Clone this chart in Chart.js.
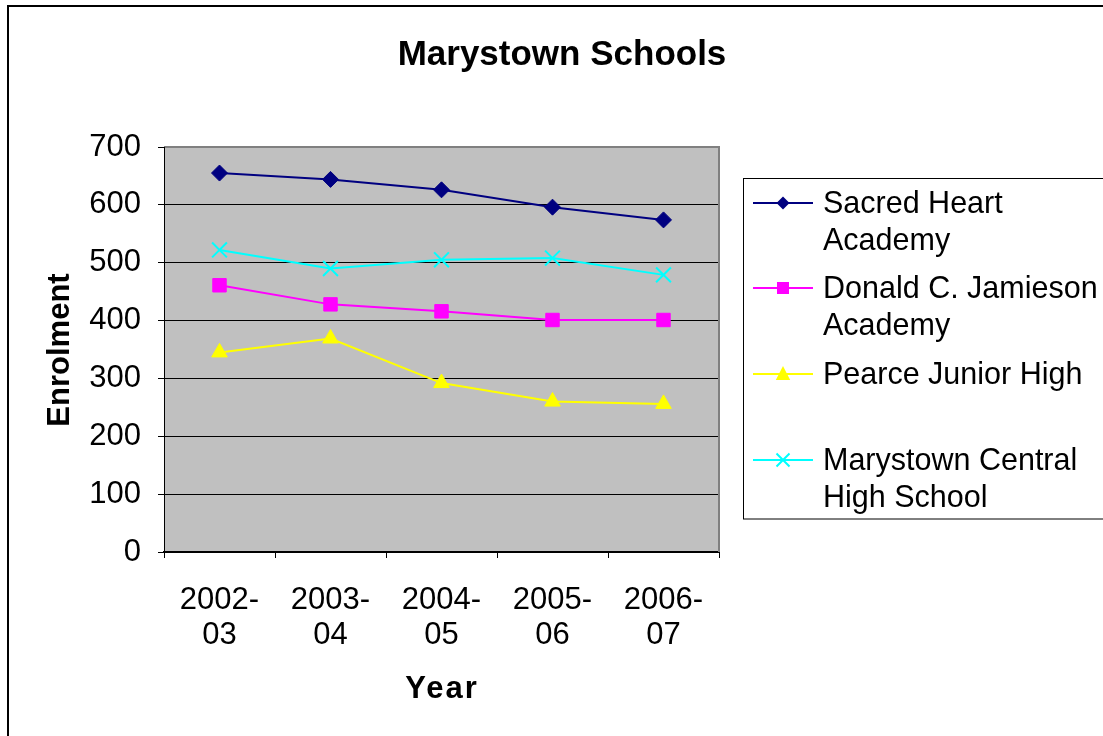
<!DOCTYPE html>
<html>
<head>
<meta charset="utf-8">
<script src="https://cdn.jsdelivr.net/npm/chart.js@4/dist/chart.umd.min.js"></script>
<style>
  html, body { margin: 0; padding: 0; background: #fff; overflow: hidden; }
  #wrap { position: relative; width: 1103px; height: 736px; }
</style>
</head>
<body>
<div id="wrap"><canvas id="c" width="1103" height="736"></canvas></div>
<script>
// Enrolment per school year
const years = [["2002-", "03"], ["2003-", "04"], ["2004-", "05"], ["2005-", "06"], ["2006-", "07"]];
const sacredHeart = [655, 644, 626, 596, 574];
const donaldJamieson = [461, 428, 416, 401, 401];
const pearceJunior = [345, 369, 292, 260, 256];
const marystownCentral = [522, 490, 505, 508, 479];

const legendLabels = [
  ["Sacred Heart", "Academy"],
  ["Donald C. Jamieson", "Academy"],
  ["Pearce Junior High"],
  ["Marystown Central", "High School"]
];

const FONT = "'Liberation Sans', Arial, Helvetica, sans-serif";

// Draws a marker shape centred on (x, y)
function drawMarker(ctx, style, x, y, r, color) {
  ctx.save();
  ctx.fillStyle = color;
  ctx.strokeStyle = color;
  ctx.beginPath();
  if (style === 'rectRot') {
    ctx.moveTo(x - r, y); ctx.lineTo(x, y - r); ctx.lineTo(x + r, y); ctx.lineTo(x, y + r);
    ctx.closePath(); ctx.fill();
  } else if (style === 'rect') {
    ctx.rect(x - r, y - r, 2 * r, 2 * r); ctx.fill();
  } else if (style === 'triangle') {
    ctx.moveTo(x, y - r); ctx.lineTo(x + r * 0.9, y + r * 0.75); ctx.lineTo(x - r * 0.9, y + r * 0.75);
    ctx.closePath(); ctx.fill();
  } else if (style === 'crossRot') {
    ctx.lineWidth = 2;
    ctx.moveTo(x - r, y - r); ctx.lineTo(x + r, y + r);
    ctx.moveTo(x + r, y - r); ctx.lineTo(x - r, y + r);
    ctx.stroke();
  }
  ctx.restore();
}

const plotDecor = {
  id: 'plotDecor',
  beforeDraw(chart) {
    const { ctx, chartArea: a } = chart;
    ctx.save();
    ctx.fillStyle = '#ffffff';
    ctx.fillRect(0, 0, chart.width, chart.height);
    ctx.fillStyle = '#c0c0c0';
    ctx.fillRect(a.left, a.top, a.right - a.left, a.bottom - a.top);
    ctx.restore();
  },
  beforeDatasetsDraw(chart) {
    const { ctx, chartArea: a } = chart;
    ctx.save();
    ctx.strokeStyle = '#808080';
    ctx.lineWidth = 2;
    ctx.beginPath();
    ctx.moveTo(a.left, a.top);
    ctx.lineTo(a.right, a.top);
    ctx.lineTo(a.right, a.bottom);
    ctx.stroke();
    ctx.strokeStyle = '#000';
    ctx.lineWidth = 1;
    ctx.beginPath();
    ctx.moveTo(a.left + 0.5, a.top);
    ctx.lineTo(a.left + 0.5, a.bottom);
    ctx.stroke();
    ctx.restore();
  },
  afterDraw(chart) {
    const { ctx } = chart;
    ctx.save();
    // outer frame
    ctx.strokeStyle = '#000';
    ctx.lineWidth = 2;
    ctx.strokeRect(8, 6, 1200, 800);

    // title
    ctx.fillStyle = '#000';
    ctx.textAlign = 'center';
    ctx.textBaseline = 'middle';
    ctx.font = 'bold 35px ' + FONT;
    ctx.fillText('Marystown Schools', 562, 55);

    // axis titles
    ctx.font = 'bold 31px ' + FONT;
    ctx.letterSpacing = '2px';
    ctx.fillText('Year', 442, 689);
    ctx.letterSpacing = '0px';
    ctx.save();
    ctx.translate(60, 350);
    ctx.rotate(-Math.PI / 2);
    ctx.fillText('Enrolment', 0, 0);
    ctx.restore();

    // legend
    ctx.strokeStyle = '#000';
    ctx.lineWidth = 1;
    ctx.strokeRect(743.5, 178.5, 500, 340.5);
    const rows = [203, 288, 374, 460];
    ctx.textAlign = 'left';
    ctx.font = '30.5px ' + FONT;
    chart.data.datasets.forEach((ds, i) => {
      const y = rows[i];
      ctx.strokeStyle = ds.borderColor;
      ctx.lineWidth = 2;
      ctx.beginPath();
      ctx.moveTo(753, y);
      ctx.lineTo(813, y);
      ctx.stroke();
      drawMarker(ctx, ds.pointStyle, 783, y, ds.legendMarker, ds.borderColor);
      ctx.fillStyle = '#000';
      legendLabels[i].forEach((t, j) => ctx.fillText(t, 823, y + 2 + j * 37));
    });
    ctx.restore();
  }
};

new Chart(document.getElementById('c'), {
  type: 'line',
  data: {
    labels: years,
    datasets: [
      { label: 'Sacred Heart Academy', data: sacredHeart, borderColor: '#000080', backgroundColor: '#000080',
        pointStyle: 'rectRot', pointRadius: 8, legendMarker: 6.5 },
      { label: 'Donald C. Jamieson Academy', data: donaldJamieson, borderColor: '#ff00ff', backgroundColor: '#ff00ff',
        pointStyle: 'rect', pointRadius: 9.5, legendMarker: 6 },
      { label: 'Pearce Junior High', data: pearceJunior, borderColor: '#ffff00', backgroundColor: '#ffff00',
        pointStyle: 'triangle', pointRadius: 9, legendMarker: 8 },
      { label: 'Marystown Central High School', data: marystownCentral, borderColor: '#00ffff', backgroundColor: '#00ffff',
        pointStyle: 'crossRot', pointRadius: 10.5, pointBorderWidth: 2, legendMarker: 6.5 }
    ]
  },
  options: {
    responsive: false,
    animation: false,
    devicePixelRatio: 1,
    layout: { padding: { left: 64, right: 384, top: 147, bottom: 34 } },
    elements: {
      line: { borderWidth: 2, tension: 0 },
      point: { borderWidth: 1, hoverRadius: 8 }
    },
    plugins: {
      legend: { display: false },
      title: { display: false },
      tooltip: { enabled: false }
    },
    scales: {
      x: {
        type: 'category',
        offset: true,
        afterFit(s) { s.height = 150; },
        grid: { offset: true, drawOnChartArea: false, drawTicks: true, tickLength: 6, color: '#000', lineWidth: 1 },
        border: { display: true, color: '#000', width: 2 },
        ticks: { color: '#000', padding: 24, maxRotation: 0, autoSkip: false,
          font: { family: FONT, size: 31, lineHeight: 1.16 } }
      },
      y: {
        min: 0,
        max: 700,
        afterFit(s) { s.width = 100; },
        grid: { color: '#000', lineWidth: 1, tickLength: 6, drawTicks: true },
        border: { display: true, color: '#000', width: 1 },
        ticks: { stepSize: 100, color: '#000', padding: 17,
          font: { family: FONT, size: 31 } }
      }
    }
  },
  plugins: [plotDecor]
});
</script>
</body>
</html>
